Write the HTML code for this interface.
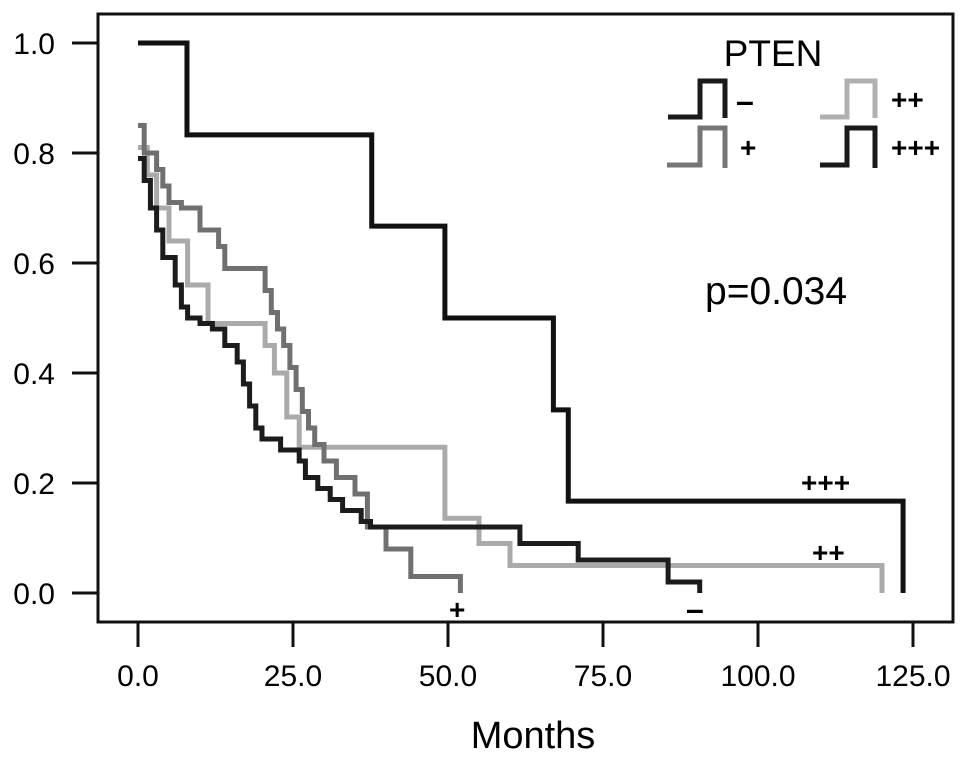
<!DOCTYPE html>
<html><head><meta charset="utf-8"><style>
body{margin:0;background:#fff}
svg text{font-family:"Liberation Sans",sans-serif}
</style></head><body>
<svg id="chart" width="969" height="759" viewBox="0 0 969 759" xmlns="http://www.w3.org/2000/svg">
<rect x="0" y="0" width="969" height="759" fill="#fff"/>
<rect x="98" y="14" width="855" height="608" fill="none" stroke="#111" stroke-width="3"/>
<g id="axes"></g>
<g id="series"></g>
<text x="533" y="748" font-size="38" text-anchor="middle">Months</text>
<text x="773" y="66" font-size="37" text-anchor="middle">PTEN</text>
<g>
<path d="M668,117 H700 V81 H725 V118" fill="none" stroke="#1a1a1a" stroke-width="5"/>
<text x="736" y="112" font-size="32" font-weight="bold">–</text>
<path d="M820,117 H847 V81 H875 V118" fill="none" stroke="#b0b0b0" stroke-width="5"/>
<text x="891" y="109" font-size="28" font-weight="bold">++</text>
<path d="M667,165 H700 V128 H725 V168" fill="none" stroke="#757575" stroke-width="5"/>
<text x="740" y="157" font-size="28" font-weight="bold">+</text>
<path d="M820,165 H847 V128 H875 V168" fill="none" stroke="#1a1a1a" stroke-width="5"/>
<text x="891" y="157" font-size="28" font-weight="bold">+++</text>
</g>
<text x="705" y="304" font-size="39">p=0.034</text>
<text x="801" y="492" font-size="28" font-weight="bold">+++</text>
<text x="812" y="562" font-size="28" font-weight="bold">++</text>
<text x="449" y="619" font-size="28" font-weight="bold">+</text>
<text x="686" y="620" font-size="32" font-weight="bold">–</text>
</svg>
<script>
const xTicks=[0,25,50,75,100,125];
const xTickLabels=["0.0","25.0","50.0","75.0","100.0","125.0"];
const yTicks=[0,0.2,0.4,0.6,0.8,1.0];
const yTickLabels=["0.0","0.2","0.4","0.6","0.8","1.0"];
const tPPP=[0,7.9,37.7,49.5,67,69.4,123.4];
const sPPP=[1,0.833,0.667,0.5,0.333,0.167,0];
const tPP=[0,1.5,3,5,8,11.3,20.5,22,24,26,49.5,55,60,120];
const sPP=[0.81,0.76,0.70,0.64,0.56,0.49,0.45,0.40,0.32,0.265,0.136,0.09,0.05,0];
const tNeg=[0,1,2,3,4,6,7,8,10,12,14,16,17,18,19,20,23,26,27,29,31,33,36,37.5,61.6,71,85.5,90.6];
const sNeg=[0.79,0.75,0.70,0.66,0.61,0.56,0.52,0.50,0.49,0.48,0.45,0.42,0.38,0.34,0.30,0.28,0.26,0.24,0.21,0.19,0.17,0.15,0.13,0.12,0.09,0.06,0.02,0];
const tPos=[0,1,3,4,5,7,10,13,14,20.5,21.5,22.5,23.5,24.5,25.5,26.5,27.5,28.5,30,32,35,37,40,44,52];
const sPos=[0.85,0.80,0.77,0.74,0.71,0.70,0.66,0.63,0.59,0.55,0.51,0.48,0.45,0.41,0.37,0.33,0.30,0.27,0.24,0.21,0.18,0.12,0.08,0.03,0];
const NS="http://www.w3.org/2000/svg";
function xs(t){return 138+t*6.2;}
function ys(s){return 593-s*550;}
const axes=document.getElementById('axes');
xTicks.forEach((v,i)=>{
 const l=document.createElementNS(NS,'line');
 l.setAttribute('x1',xs(v));l.setAttribute('x2',xs(v));l.setAttribute('y1',622);l.setAttribute('y2',647);
 l.setAttribute('stroke','#111');l.setAttribute('stroke-width','3');
 
 
 axes.appendChild(l);
 const t=document.createElementNS(NS,'text');
 t.setAttribute('x',xs(v));t.setAttribute('y',686);t.setAttribute('font-size','30');t.setAttribute('text-anchor','middle');
 t.textContent=xTickLabels[i];
 
 
 axes.appendChild(t);
});
yTicks.forEach((v,i)=>{
 const l=document.createElementNS(NS,'line');
 l.setAttribute('x1',72);l.setAttribute('x2',98);l.setAttribute('y1',ys(v));l.setAttribute('y2',ys(v));
 l.setAttribute('stroke','#111');l.setAttribute('stroke-width','3');
 
 
 axes.appendChild(l);
 const t=document.createElementNS(NS,'text');
 t.setAttribute('x',55);t.setAttribute('y',ys(v)+11);t.setAttribute('font-size','30');t.setAttribute('text-anchor','end');
 t.textContent=yTickLabels[i];
 
 
 axes.appendChild(t);
});
const series=document.getElementById('series');
function draw(ts,ss,color,name){
 let d='M'+xs(ts[0])+','+ys(ss[0]);
 for(let i=1;i<ts.length;i++){d+=' H'+xs(ts[i])+' V'+ys(ss[i]);}
 const p=document.createElementNS(NS,'path');
 p.setAttribute('d',d);p.setAttribute('fill','none');p.setAttribute('stroke',color);p.setAttribute('stroke-width','5');
 
 
 series.appendChild(p);
}
draw(tPP,sPP,'#aaaaaa','curve-pten-pp');
draw(tPos,sPos,'#707070','curve-pten-p');
draw(tNeg,sNeg,'#1c1c1c','curve-pten-neg');
draw(tPPP,sPPP,'#111111','curve-pten-ppp');
</script>
</body></html>
